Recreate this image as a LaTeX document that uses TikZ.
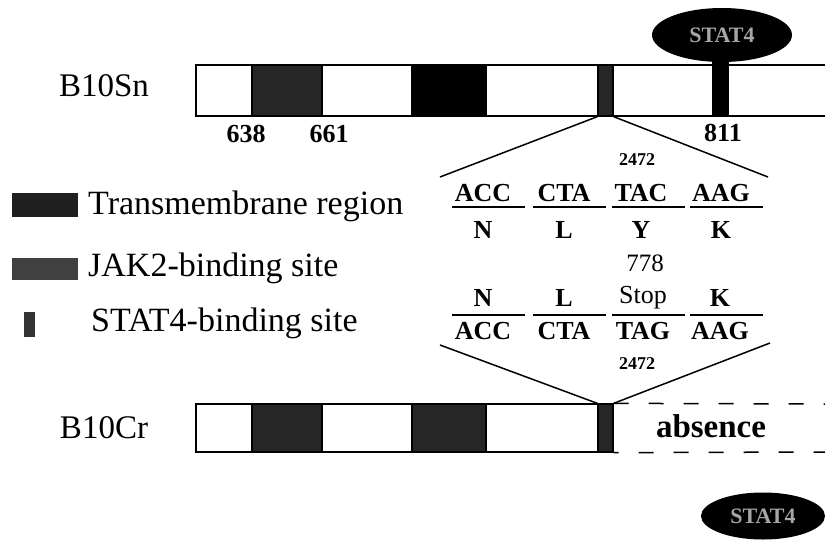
\documentclass[tikz,border=0pt]{standalone}
\usepackage{fontspec}
\setmainfont{Liberation Serif}
\usetikzlibrary{positioning,shapes.geometric}
\tikzset{
    segbox/.style={draw, line width=1.3pt},
    sitebox/.style={draw, fill=black!85, line width=1.3pt, inner sep=0pt,
        minimum width=15pt, minimum height=51pt},
    statoval/.style={ellipse, fill=black, inner sep=0pt, text=black!35,
        font=\fontsize{22}{24}\selectfont\bfseries},
    barname/.style={font=\fontsize{33}{36}\selectfont, inner sep=0pt},
    numlabel/.style={font=\fontsize{26}{28}\selectfont\bfseries, inner sep=0pt},
    codon/.style={font=\fontsize{26}{28}\selectfont\bfseries, inner sep=0pt},
    smallnum/.style={font=\fontsize{18}{20}\selectfont\bfseries, inner sep=0pt},
    legtext/.style={font=\fontsize{34}{36}\selectfont, anchor=west, inner sep=0pt},
    fanline/.style={line width=1.5pt},
    codonrule/.style={line width=1.4pt},
    absentline/.style={line width=1.5pt, dash pattern=on 15pt off 20pt}
}

\begin{document}
\begin{tikzpicture}[x=1pt, y=-1pt]
\useasboundingbox (0,0) rectangle (825,541);

% B10Sn receptor
\node[barname] (sn) at (104,86) {B10Sn};
\foreach \xa/\xb/\shade in {196/252/white, 252/322/black!85, 322/412/white,
    412/486/black, 486/598/white, 613/713/white}
  \draw[segbox, fill=\shade] (\xa,65) rectangle (\xb,116);
\draw[segbox] (728,65) -- (825,65) (728,116) -- (825,116);
\node[sitebox] (snsite) at (605.5,90.5) {};
\draw[segbox, fill=black] (713,55) rectangle (728,116);
\node[statoval, minimum width=140pt, minimum height=54pt] (stattop) at (722,35) {STAT4};
\node[numlabel] (n638) at (246,134) {638};
\node[numlabel] (n661) at (329,134) {661};
\node[numlabel] (n811) at (723,133) {811};

% codon change
\node[smallnum] (pos1) at (637,160) {2472};
\foreach \cx/\cod/\amino [count=\i] in {483/ACC/N, 564/CTA/L, 641/TAC/Y, 721/AAG/K}{
  \node[codon] (sncod\i) at (\cx,193) {\cod};
  \node[codon] (snaa\i) at (\cx,230) {\amino};
}
\node[font=\fontsize{25}{27}\selectfont, inner sep=0pt] (n778) at (645,263) {778};
\foreach \cx/\cod/\amino [count=\i] in {483/ACC/N, 564/CTA/L, 643/TAG/\mdseries Stop, 720/AAG/K}{
  \node[codon] (craa\i) at (\cx,298) {\amino};
  \node[codon] (crcod\i) at (\cx,331) {\cod};
}
\node[smallnum] (pos2) at (637,364) {2472};
\foreach \xa in {452,533,612,690}{
  \draw[codonrule] (\xa,207) -- ++(73,0);
  \draw[codonrule] (\xa,315) -- ++(73,0);
}
\coordinate (fantl) at (440,177);
\coordinate (fantr) at (768,177);
\coordinate (fanbl) at (440,345);
\coordinate (fanbr) at (770,343);

% B10Cr receptor
\node[barname] (cr) at (104,428) {B10Cr};
\foreach \xa/\xb/\shade in {196/252/white, 252/322/black!85, 322/412/white,
    412/486/black!85, 486/598/white}
  \draw[segbox, fill=\shade] (\xa,404) rectangle (\xb,452);
\node[sitebox, minimum height=48pt] (crsite) at (605.5,428) {};
\draw[absentline] (crsite.north east) -- (825,404);
\draw[absentline, dash phase=10pt] (crsite.south east) -- (825,452);
\node[font=\fontsize{33}{36}\selectfont\bfseries, inner sep=0pt] (absent) at (711,426) {absence};
\node[statoval, minimum width=124pt, minimum height=47pt] (statbot) at (763,516) {STAT4};

\draw[fanline] (snsite.south west) -- (fantl);
\draw[fanline] (snsite.south east) -- (fantr);
\draw[fanline] (fanbl) -- (crsite.north west);
\draw[fanline] (fanbr) -- (crsite.north east);

% legend
\fill[black!88] (12,193) rectangle (78,217);
\node[legtext] (legtm) at (88,206) {Transmembrane region};
\fill[black!75] (12,258) rectangle (78,280);
\node[legtext] (legjak) at (88,268) {JAK2-binding site};
\fill[black!80] (24,312) rectangle (35,337);
\node[legtext] (legstat) at (91,323) {STAT4-binding site};
\end{tikzpicture}
\end{document}
